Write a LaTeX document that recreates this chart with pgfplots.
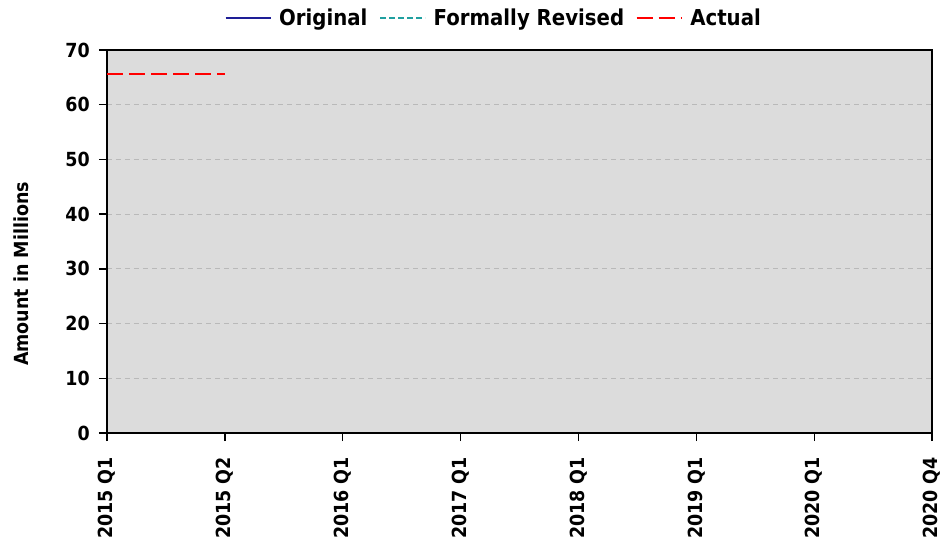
\documentclass[border=0pt]{standalone}
\usepackage{fontspec}
\setmainfont{DejaVu Sans}[FakeStretch=0.9]
\usepackage{pgfplots}
\pgfplotsset{compat=1.18}
\definecolor{bg}{RGB}{220,220,220}
\definecolor{grd}{RGB}{185,185,185}
\definecolor{orig}{RGB}{30,30,150}
\definecolor{rev}{RGB}{32,160,160}
\definecolor{act}{RGB}{255,0,0}
\begin{document}
\begin{tikzpicture}
\begin{axis}[name=ax, scale only axis, width=825bp, height=383bp,
  xmin=0, xmax=7, ymin=0, ymax=70,
  xtick={0,...,7},
  xticklabels={2015 Q1,2015 Q2,2016 Q1,2017 Q1,2018 Q1,2019 Q1,2020 Q1,2020 Q4},
  ytick={0,10,...,70},
  /pgf/number format/assume math mode=true,
  axis background/.style={fill=bg},
  axis line style={line width=1.3bp},
  tick style={line width=1.3bp, black},
  tick align=outside, major tick length=8bp,
  xtick pos=bottom, ytick pos=left,
  ymajorgrids, grid style={grd, dash pattern=on 5bp off 4bp, line width=1bp},
  ticklabel style={font=\bfseries\fontsize{19.5}{20}\selectfont},
  yticklabel style={anchor=east, inner sep=0pt, xshift=-9bp},
  xticklabel style={yshift=-16bp, rotate=90, anchor=east, inner sep=0pt},
  ylabel={Amount in Millions},
  ylabel style={at={(axis description cs:-0.1036,0.415)}, anchor=center, font=\bfseries\fontsize{19.5}{20}\selectfont},
  legend style={at={(0.469,1.0836)}, anchor=center, draw=none, fill=none,
    legend columns=-1, font=\bfseries\fontsize{22}{24}\selectfont,
    /tikz/every odd column/.append style={column sep=6bp},
    /tikz/every even column/.append style={column sep=10bp}},
  legend image code/.code={\draw[#1] (0bp,0bp) -- (45bp,0bp);},
]
\addlegendimage{orig, line width=1.2bp}
\addlegendentry{Original}
\addlegendimage{rev, line width=1.2bp, dash pattern=on 6bp off 3bp}
\addlegendentry{Formally Revised}
\addplot[act, line width=1.2bp, dash pattern=on 16bp off 6bp] coordinates {(0,65.6) (1,65.6)};
\addlegendentry{Actual}
\end{axis}
\pgfresetboundingbox
\path ([xshift=-107bp,yshift=-112bp]ax.south west) rectangle ([xshift=11bp,yshift=50bp]ax.north east);
\end{tikzpicture}
\end{document}
